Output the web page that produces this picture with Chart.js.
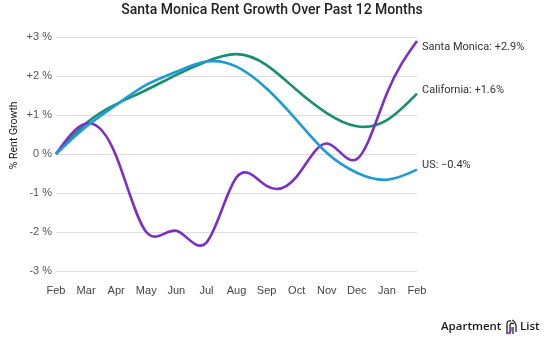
<!DOCTYPE html>
<html>
<head>
<meta charset="utf-8">
<script src="https://cdn.jsdelivr.net/npm/chart.js@4/dist/chart.umd.min.js"></script>
<style>
  html, body { margin: 0; padding: 0; background: #fff; }
  #wrap { width: 545px; height: 342px; position: relative; }
</style>
</head>
<body>
<div id="wrap"><canvas id="c" width="545" height="342"></canvas></div>
<script>
const months = ["Feb","Mar","Apr","May","Jun","Jul","Aug","Sep","Oct","Nov","Dec","Jan","Feb"];
const santaMonica = [0, 0.78, -0.05, -2.0, -1.97, -2.27, -0.6, -0.82, -0.58, 0.27, -0.13, 1.56, 2.9];
const california  = [0, 0.79, 1.28, 1.64, 2.03, 2.37, 2.56, 2.28, 1.64, 1.05, 0.71, 0.87, 1.55];
const us          = [0, 0.70, 1.26, 1.77, 2.11, 2.37, 2.24, 1.68, 0.87, 0.03, -0.48, -0.66, -0.4];
const seriesNames = ["Santa Monica", "California", "US"];
const endLabels = ["Santa Monica: +2.9%", "California: +1.6%", "US: \u22120.4%"];
const yTickLabels = {"3":"+3 %","2":"+2 %","1":"+1 %","0":"0 %","-1":"-1 %","-2":"-2 %","-3":"-3 %"};
const chartTitle = "Santa Monica Rent Growth Over Past 12 Months";
const yTitle = "% Rent Growth";

const colors = ["#7b2fc5", "#178f6f", "#1f9ad6"];
const drawOrder = [1, 2, 0];
const labelDy = [6, -3, -4];

// Natural cubic spline control points, computed from the scale-mapped points
function naturalTangents(ys) {
  const n = ys.length - 1;
  const a = [], b = [], c = [], r = [];
  for (let i = 1; i < n; i++) {
    a.push(1); b.push(4); c.push(1);
    r.push(6 * (ys[i - 1] - 2 * ys[i] + ys[i + 1]));
  }
  const m = r.length;
  for (let i = 1; i < m; i++) {
    const w = a[i] / b[i - 1];
    b[i] -= w * c[i - 1];
    r[i] -= w * r[i - 1];
  }
  const M = new Array(n + 1).fill(0);
  for (let i = m - 1; i >= 0; i--) {
    M[i + 1] = (r[i] - (i < m - 1 ? c[i] * M[i + 2] : 0)) / b[i];
  }
  const d = [];
  for (let i = 0; i <= n; i++) {
    if (i < n) d.push((ys[i + 1] - ys[i]) - (2 * M[i] + M[i + 1]) / 6);
    else d.push((ys[n] - ys[n - 1]) + (M[n - 1] + 2 * M[n]) / 6);
  }
  return d;
}

const splinePlugin = {
  id: 'smoothSpline',
  beforeDatasetsDraw(chart) {
    chart.data.datasets.forEach((ds, di) => {
      const meta = chart.getDatasetMeta(di);
      const line = meta.dataset;
      const pts = meta.data;
      if (line.updateControlPoints) line.updateControlPoints(chart.chartArea, meta.iScale.axis);
      const d = naturalTangents(pts.map(p => p.y));
      for (let i = 0; i < pts.length; i++) {
        const p = pts[i];
        const dxPrev = i > 0 ? (p.x - pts[i - 1].x) / 3 : 0;
        const dxNext = i < pts.length - 1 ? (pts[i + 1].x - p.x) / 3 : 0;
        p.cp1x = p.x - dxPrev; p.cp1y = p.y - d[i] / 3;
        p.cp2x = p.x + dxNext; p.cp2y = p.y + d[i] / 3;
      }
      line._pointsUpdated = true;
      line._path = undefined;
    });
  }
};

const endLabelPlugin = {
  id: 'endLabels',
  afterDatasetsDraw(chart) {
    const ctx = chart.ctx;
    ctx.save();
    ctx.font = '11px Roboto, "Liberation Sans", Arial, sans-serif';
    ctx.fillStyle = '#333';
    ctx.textBaseline = 'middle';
    ctx.textAlign = 'left';
    chart.data.datasets.forEach((ds, i) => {
      const meta = chart.getDatasetMeta(i);
      const pt = meta.data[meta.data.length - 1];
      ctx.fillText(endLabels[i], pt.x + 5, pt.y + labelDy[i]);
    });
    ctx.restore();
  }
};

const textPlugin = {
  id: 'titleLogo',
  afterDraw(chart) {
    const ctx = chart.ctx;
    const area = chart.chartArea;
    ctx.save();
    ctx.fillStyle = '#222';
    ctx.font = '500 14px Roboto, Arial, sans-serif';
    ctx.textAlign = 'center';
    ctx.textBaseline = 'middle';
    ctx.fillText(chartTitle, 272, 10);
    ctx.save();
    ctx.translate(14, area.top + (area.bottom - area.top) * 0.42);
    ctx.rotate(-Math.PI / 2);
    ctx.font = '10.5px Roboto, Arial, sans-serif';
    ctx.fillStyle = '#222';
    ctx.fillText(yTitle, 0, 0);
    ctx.restore();
    ctx.font = '600 11.5px "Open Sans", Lato, Arial, sans-serif';
    ctx.textAlign = 'left';
    ctx.fillStyle = '#1a1a1a';
    ctx.fillText("Apartment", 441, 327);
    ctx.fillText("List", 520, 327);
    ctx.lineWidth = 1.3;
    ctx.strokeStyle = '#222';
    ctx.beginPath();
    ctx.moveTo(507, 334); ctx.lineTo(507, 324); ctx.quadraticCurveTo(507, 320, 511, 321);
    ctx.moveTo(510, 334); ctx.lineTo(510, 325); ctx.quadraticCurveTo(511, 322, 514, 324);
    ctx.moveTo(513, 334); ctx.lineTo(513, 327);
    ctx.moveTo(512, 320); ctx.quadraticCurveTo(516, 322, 516, 327); ctx.lineTo(516, 332);
    ctx.stroke();
    ctx.strokeStyle = '#7b2fc5';
    ctx.beginPath();
    ctx.moveTo(507, 334); ctx.lineTo(511, 331); ctx.lineTo(511, 327);
    ctx.stroke();
    ctx.restore();
  }
};

const datasets = [santaMonica, california, us].map((vals, i) => ({
  label: seriesNames[i],
  data: vals,
  order: drawOrder[i],
  borderColor: colors[i],
  backgroundColor: colors[i],
  borderWidth: 2.6,
  pointRadius: 0,
  tension: 0.4,
  capBezierPoints: false,
  fill: false
}));

new Chart(document.getElementById('c'), {
  type: 'line',
  data: { labels: months, datasets },
  options: {
    responsive: false,
    animation: false,
    devicePixelRatio: 1,
    layout: { padding: { left: 0, right: 128, top: 37, bottom: 0 } },
    plugins: {
      legend: { display: false },
      title: { display: false },
      tooltip: { enabled: false }
    },
    scales: {
      x: {
        offset: false,
        grid: { display: false, drawTicks: false },
        border: { display: false },
        ticks: {
          padding: 13,
          color: '#444',
          font: { family: 'Arial, "Liberation Sans", sans-serif', size: 11 },
          maxRotation: 0, autoSkip: false
        },
        afterFit(s) { s.height = 71; }
      },
      y: {
        min: -3, max: 3,
        grid: { color: '#dcdcdc', lineWidth: 1, drawTicks: false },
        border: { display: false },
        ticks: {
          stepSize: 1,
          padding: 4,
          color: '#555',
          font: { family: 'Arial, "Liberation Sans", sans-serif', size: 11 },
          callback: (v) => yTickLabels[String(v)]
        },
        afterFit(s) { s.width = 56; }
      }
    }
  },
  plugins: [splinePlugin, endLabelPlugin, textPlugin]
});
</script>
</body>
</html>
